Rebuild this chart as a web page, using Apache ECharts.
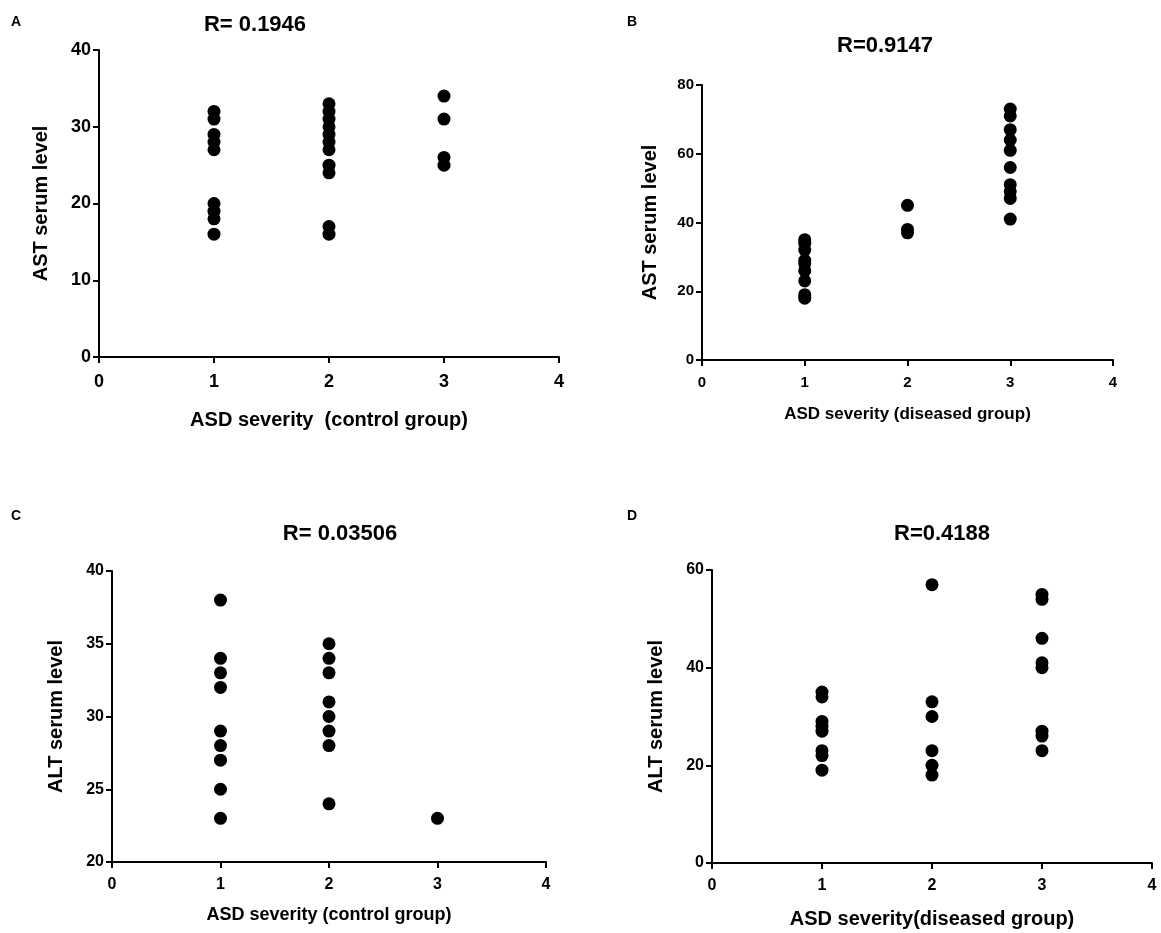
<!DOCTYPE html>
<html>
<head>
<meta charset="utf-8">
<script src="https://cdn.jsdelivr.net/npm/echarts@6/dist/echarts.min.js"></script>
<style>
  html, body { margin: 0; padding: 0; background: #fff; }
  #main { width: 1161px; height: 933px; }
</style>
</head>
<body>
<div id="main"></div>
<script>
// AST / ALT serum levels against ASD severity (1..3)
const severityTicks = [0, 1, 2, 3, 4]

const astControl1 = [32, 31, 29, 28, 27, 20, 19, 18, 16]
const astControl2 = [33, 32, 31, 30, 29, 28, 27, 25, 24, 17, 16]
const astControl3 = [34, 31, 26, 25]

const astDiseased1 = [35, 34, 32, 29, 28, 26, 23, 19, 18]
const astDiseased2 = [45, 38, 37]
const astDiseased3 = [73, 71, 67, 64, 61, 56, 51, 49, 47, 41]

const altControl1 = [38, 34, 33, 32, 29, 28, 27, 25, 23]
const altControl2 = [35, 34, 33, 31, 30, 29, 28, 24]
const altControl3 = [23]

const altDiseased1 = [35, 34, 29, 28, 27, 23, 22, 19]
const altDiseased2 = [57, 33, 30, 23, 20, 18]
const altDiseased3 = [55, 54, 46, 41, 40, 27, 26, 23]

const rValues = ['R= 0.1946', 'R=0.9147', 'R= 0.03506', 'R=0.4188']
const panelLetters = ['A', 'B', 'C', 'D']

function toPoints(cols) {
  const pts = []
  cols.forEach((vals, i) => vals.forEach(v => pts.push([i + 1, v])))
  return pts
}

const FONT = 'Liberation Sans, Arial, sans-serif'

const panels = [
  { grid: { left: 99, top: 50, width: 460, height: 307 },
    y: { min: 0, max: 40, interval: 10 }, yName: 'AST serum level', yGap: 48,
    xName: 'ASD severity  (control group)', xSize: 20, xGap: 53, labelSize: 18, xMargin: 16,
    data: toPoints([astControl1, astControl2, astControl3]) },
  { grid: { left: 702, top: 85, width: 411, height: 275 },
    y: { min: 0, max: 80, interval: 20 }, yName: 'AST serum level', yGap: 42,
    xName: 'ASD severity (diseased group)', xSize: 17, xGap: 46, labelSize: 15, xMargin: 15,
    data: toPoints([astDiseased1, astDiseased2, astDiseased3]) },
  { grid: { left: 112, top: 571, width: 434, height: 291 },
    y: { min: 20, max: 40, interval: 5 }, yName: 'ALT serum level', yGap: 46,
    xName: 'ASD severity (control group)', xSize: 18, xGap: 44, labelSize: 16, xMargin: 15,
    data: toPoints([altControl1, altControl2, altControl3]) },
  { grid: { left: 712, top: 570, width: 440, height: 293 },
    y: { min: 0, max: 60, interval: 20 }, yName: 'ALT serum level', yGap: 46,
    xName: 'ASD severity(diseased group)', xSize: 20, xGap: 46, labelSize: 16, xMargin: 15,
    data: toPoints([altDiseased1, altDiseased2, altDiseased3]) }
]

const axisLine = { show: true, onZero: false, lineStyle: { color: '#000', width: 2 } }
const axisTick = { show: true, inside: false, length: 6, lineStyle: { color: '#000', width: 2 } }

const titlePos = [
  { left: 250, top: 9 }, { left: 880, top: 30 },
  { left: 335, top: 518 }, { left: 937, top: 518 }
]
const letterPos = [
  { left: 6, top: 10 }, { left: 622, top: 10 },
  { left: 6, top: 504 }, { left: 622, top: 504 }
]

const chart = echarts.init(document.getElementById('main'), null, { renderer: 'canvas' })

chart.setOption({
  backgroundColor: '#fff',
  animation: false,
  title: rValues.map((t, i) => ({
    text: t,
    left: titlePos[i].left, top: titlePos[i].top,
    textAlign: 'center',
    textStyle: { fontFamily: FONT, fontWeight: 'bold', fontSize: 22, color: '#000' }
  })).concat(panelLetters.map((t, i) => ({
    text: t,
    left: letterPos[i].left, top: letterPos[i].top,
    textStyle: { fontFamily: FONT, fontWeight: 'bold', fontSize: 14, color: '#000' }
  }))),
  grid: panels.map(p => Object.assign({ containLabel: false }, p.grid)),
  xAxis: panels.map((p, i) => ({
    type: 'value', gridIndex: i, min: 0, max: 4, interval: 1,
    name: p.xName, nameLocation: 'middle', nameGap: p.xGap,
    nameTextStyle: { fontFamily: FONT, fontWeight: 'bold', fontSize: p.xSize, color: '#000' },
    axisLine: axisLine, axisTick: axisTick, splitLine: { show: false },
    axisLabel: { fontFamily: FONT, fontWeight: 'bold', fontSize: p.labelSize, color: '#000', margin: p.xMargin,
      formatter: v => severityTicks.includes(v) ? String(v) : '' }
  })),
  yAxis: panels.map((p, i) => ({
    type: 'value', gridIndex: i, min: p.y.min, max: p.y.max, interval: p.y.interval,
    name: p.yName, nameLocation: 'middle', nameGap: p.yGap, nameRotate: 90,
    nameTextStyle: { fontFamily: FONT, fontWeight: 'bold', fontSize: 20, color: '#000' },
    axisLine: axisLine, axisTick: axisTick, splitLine: { show: false },
    axisLabel: { fontFamily: FONT, fontWeight: 'bold', fontSize: p.labelSize, color: '#000', margin: 8 }
  })),
  series: panels.map((p, i) => ({
    type: 'scatter', xAxisIndex: i, yAxisIndex: i,
    symbol: 'circle', symbolSize: 13,
    itemStyle: { color: '#000', opacity: 1 },
    data: p.data
  }))
})
</script>
</body>
</html>
